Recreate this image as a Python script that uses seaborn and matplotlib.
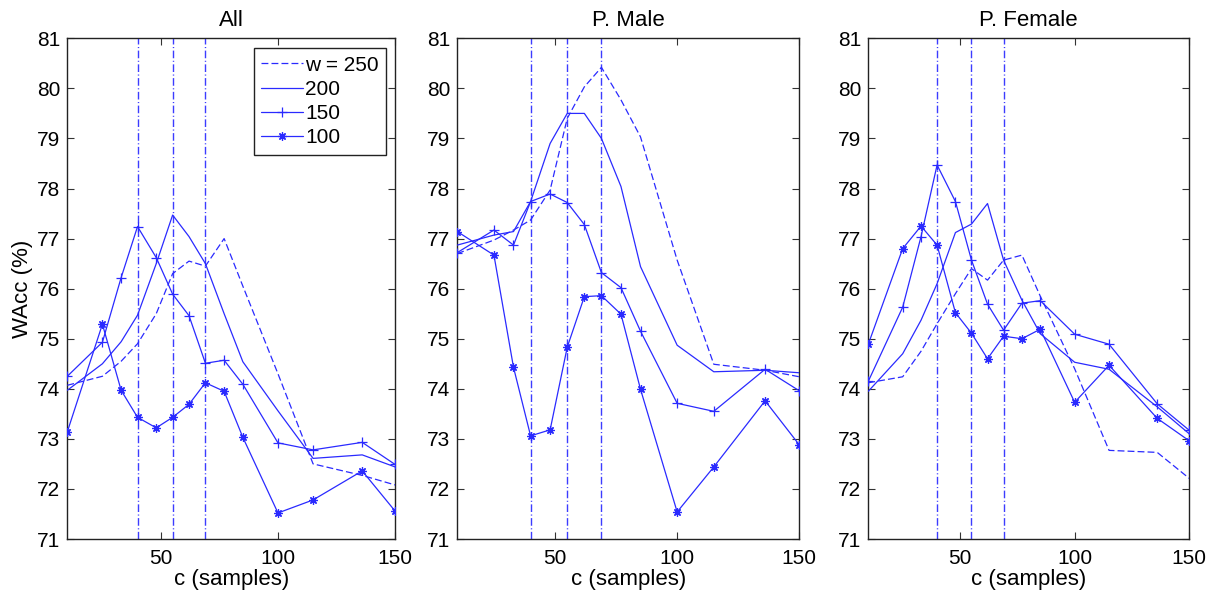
import numpy as np
import pandas as pd
import matplotlib
matplotlib.use('Agg')
import matplotlib.pyplot as plt
import seaborn as sns

# ---------------- data ----------------
c_samples = [10, 25, 33, 40, 48, 55, 62, 69, 77, 85, 100, 115, 136, 150]
window_labels = ["w = 250", "200", "150", "100"]
panel_titles = ["All", "P. Male", "P. Female"]
vlines_c = [40, 55, 69]

all_w250 = [74.07, 74.25, 74.55, 74.90, 75.50, 76.30, 76.55, 76.45, 77.00, 76.05, 74.30, 72.50, 72.27, 72.08]
all_w200 = [73.97, 74.50, 74.94, 75.47, 76.50, 77.47, 77.04, 76.50, 75.50, 74.54, 73.56, 72.61, 72.68, 72.44]
all_w150 = [74.25, 74.93, 76.22, 77.24, 76.62, 75.89, 75.46, 74.51, 74.57, 74.09, 72.92, 72.78, 72.93, 72.49]
all_w100 = [73.14, 75.29, 73.97, 73.43, 73.22, 73.43, 73.69, 74.12, 73.95, 73.03, 71.52, 71.78, 72.36, 71.56]

male_w250 = [76.70, 76.97, 77.17, 77.37, 77.97, 79.40, 80.03, 80.42, 79.77, 79.03, 76.57, 74.49, 74.37, 74.24]
male_w200 = [76.87, 77.07, 77.14, 77.74, 78.90, 79.50, 79.50, 79.00, 78.04, 76.44, 74.87, 74.34, 74.37, 74.32]
male_w150 = [76.72, 77.17, 76.87, 77.74, 77.89, 77.72, 77.28, 76.32, 76.02, 75.15, 73.71, 73.55, 74.39, 73.96]
male_w100 = [77.14, 76.67, 74.43, 73.06, 73.18, 74.83, 75.84, 75.86, 75.49, 73.99, 71.54, 72.44, 73.76, 72.88]

female_w250 = [74.12, 74.24, 74.75, 75.30, 75.90, 76.40, 76.17, 76.57, 76.67, 75.85, 74.40, 72.77, 72.73, 72.21]
female_w200 = [73.95, 74.70, 75.37, 76.10, 77.12, 77.29, 77.70, 76.57, 75.77, 75.10, 74.53, 74.39, 73.64, 73.10]
female_w150 = [74.15, 75.63, 77.04, 78.47, 77.74, 76.57, 75.69, 75.17, 75.71, 75.76, 75.09, 74.89, 73.70, 73.17]
female_w100 = [74.89, 76.80, 77.25, 76.87, 75.52, 75.11, 74.60, 75.05, 75.00, 75.19, 73.73, 74.47, 73.41, 72.96]

panels = [
    [all_w250, all_w200, all_w150, all_w100],
    [male_w250, male_w200, male_w150, male_w100],
    [female_w250, female_w200, female_w150, female_w100],
]

# ---------------- style ----------------
sns.set_theme(style='ticks')
plt.rcParams['font.family'] = ['Liberation Sans', 'DejaVu Sans']
for k in ['text.color', 'axes.labelcolor', 'xtick.color', 'ytick.color']:
    plt.rcParams[k] = 'black'

line_color = '#2a2aff'
series_styles = [
    dict(linestyle=(0, (5.5, 2.5)), marker=None),
    dict(linestyle='-', marker=None),
    dict(linestyle='-', marker='+', markersize=7, markeredgewidth=0.9),
    dict(linestyle='-', marker=(8, 2, 0), markersize=6, markeredgewidth=0.9),
]

W, H = 1216, 591
fig = plt.figure(figsize=(W / 100, H / 100), dpi=100)
axes_px = [(67.3, 395.0), (457.3, 799.3), (868.3, 1189.3)]
top_px, bot_px = 38.3, 539.0

for i, (x0, x1) in enumerate(axes_px):
    ax = fig.add_axes([x0 / W, 1 - bot_px / H, (x1 - x0) / W, (bot_px - top_px) / H])
    for vx in vlines_c:
        ax.axvline(vx, color='#3c3cff', linestyle=(0, (5.5, 1.8, 0.8, 1.8)), linewidth=1.0, zorder=1)
    for vals, lab, st in zip(panels[i], window_labels, series_styles):
        df = pd.DataFrame({'c': c_samples, 'wacc': vals})
        sns.lineplot(data=df, x='c', y='wacc', ax=ax, color=line_color, linewidth=0.9,
                     markeredgecolor=line_color, markerfacecolor=line_color,
                     label=lab, legend=False, sort=False, zorder=3, **st)
    ax.set_xlim(10, 150)
    ax.set_ylim(71, 81)
    ax.set_xticks([50, 100, 150])
    ax.set_yticks(list(range(71, 82)))
    ax.tick_params(direction='in', top=True, right=True, length=5, width=0.8,
                   labelsize=15, color='#333333', pad=5)
    ax.tick_params(axis='x', pad=7)
    for sp in ax.spines.values():
        sp.set_visible(True)
        sp.set_color('#222222')
        sp.set_linewidth(1.0)
    ax.set_title(panel_titles[i], fontsize=16, pad=9)
    ax.set_xlabel('c (samples)', fontsize=16, labelpad=1)
    if i == 0:
        ax.set_ylabel('WAcc (%)', fontsize=16, labelpad=3)
        handles = ax.lines[len(vlines_c):]
        leg = ax.legend(handles=handles, labels=window_labels, loc='upper right',
                        bbox_to_anchor=(0.9725, 0.98), borderaxespad=0, fontsize=15,
                        fancybox=False, framealpha=1, edgecolor='#222222',
                        handlelength=2.0, handletextpad=0.1, labelspacing=0.25,
                        borderpad=0.35)
        leg.get_frame().set_linewidth(1.0)
    else:
        ax.set_ylabel('')

fig.savefig('out.png', dpi=100)
